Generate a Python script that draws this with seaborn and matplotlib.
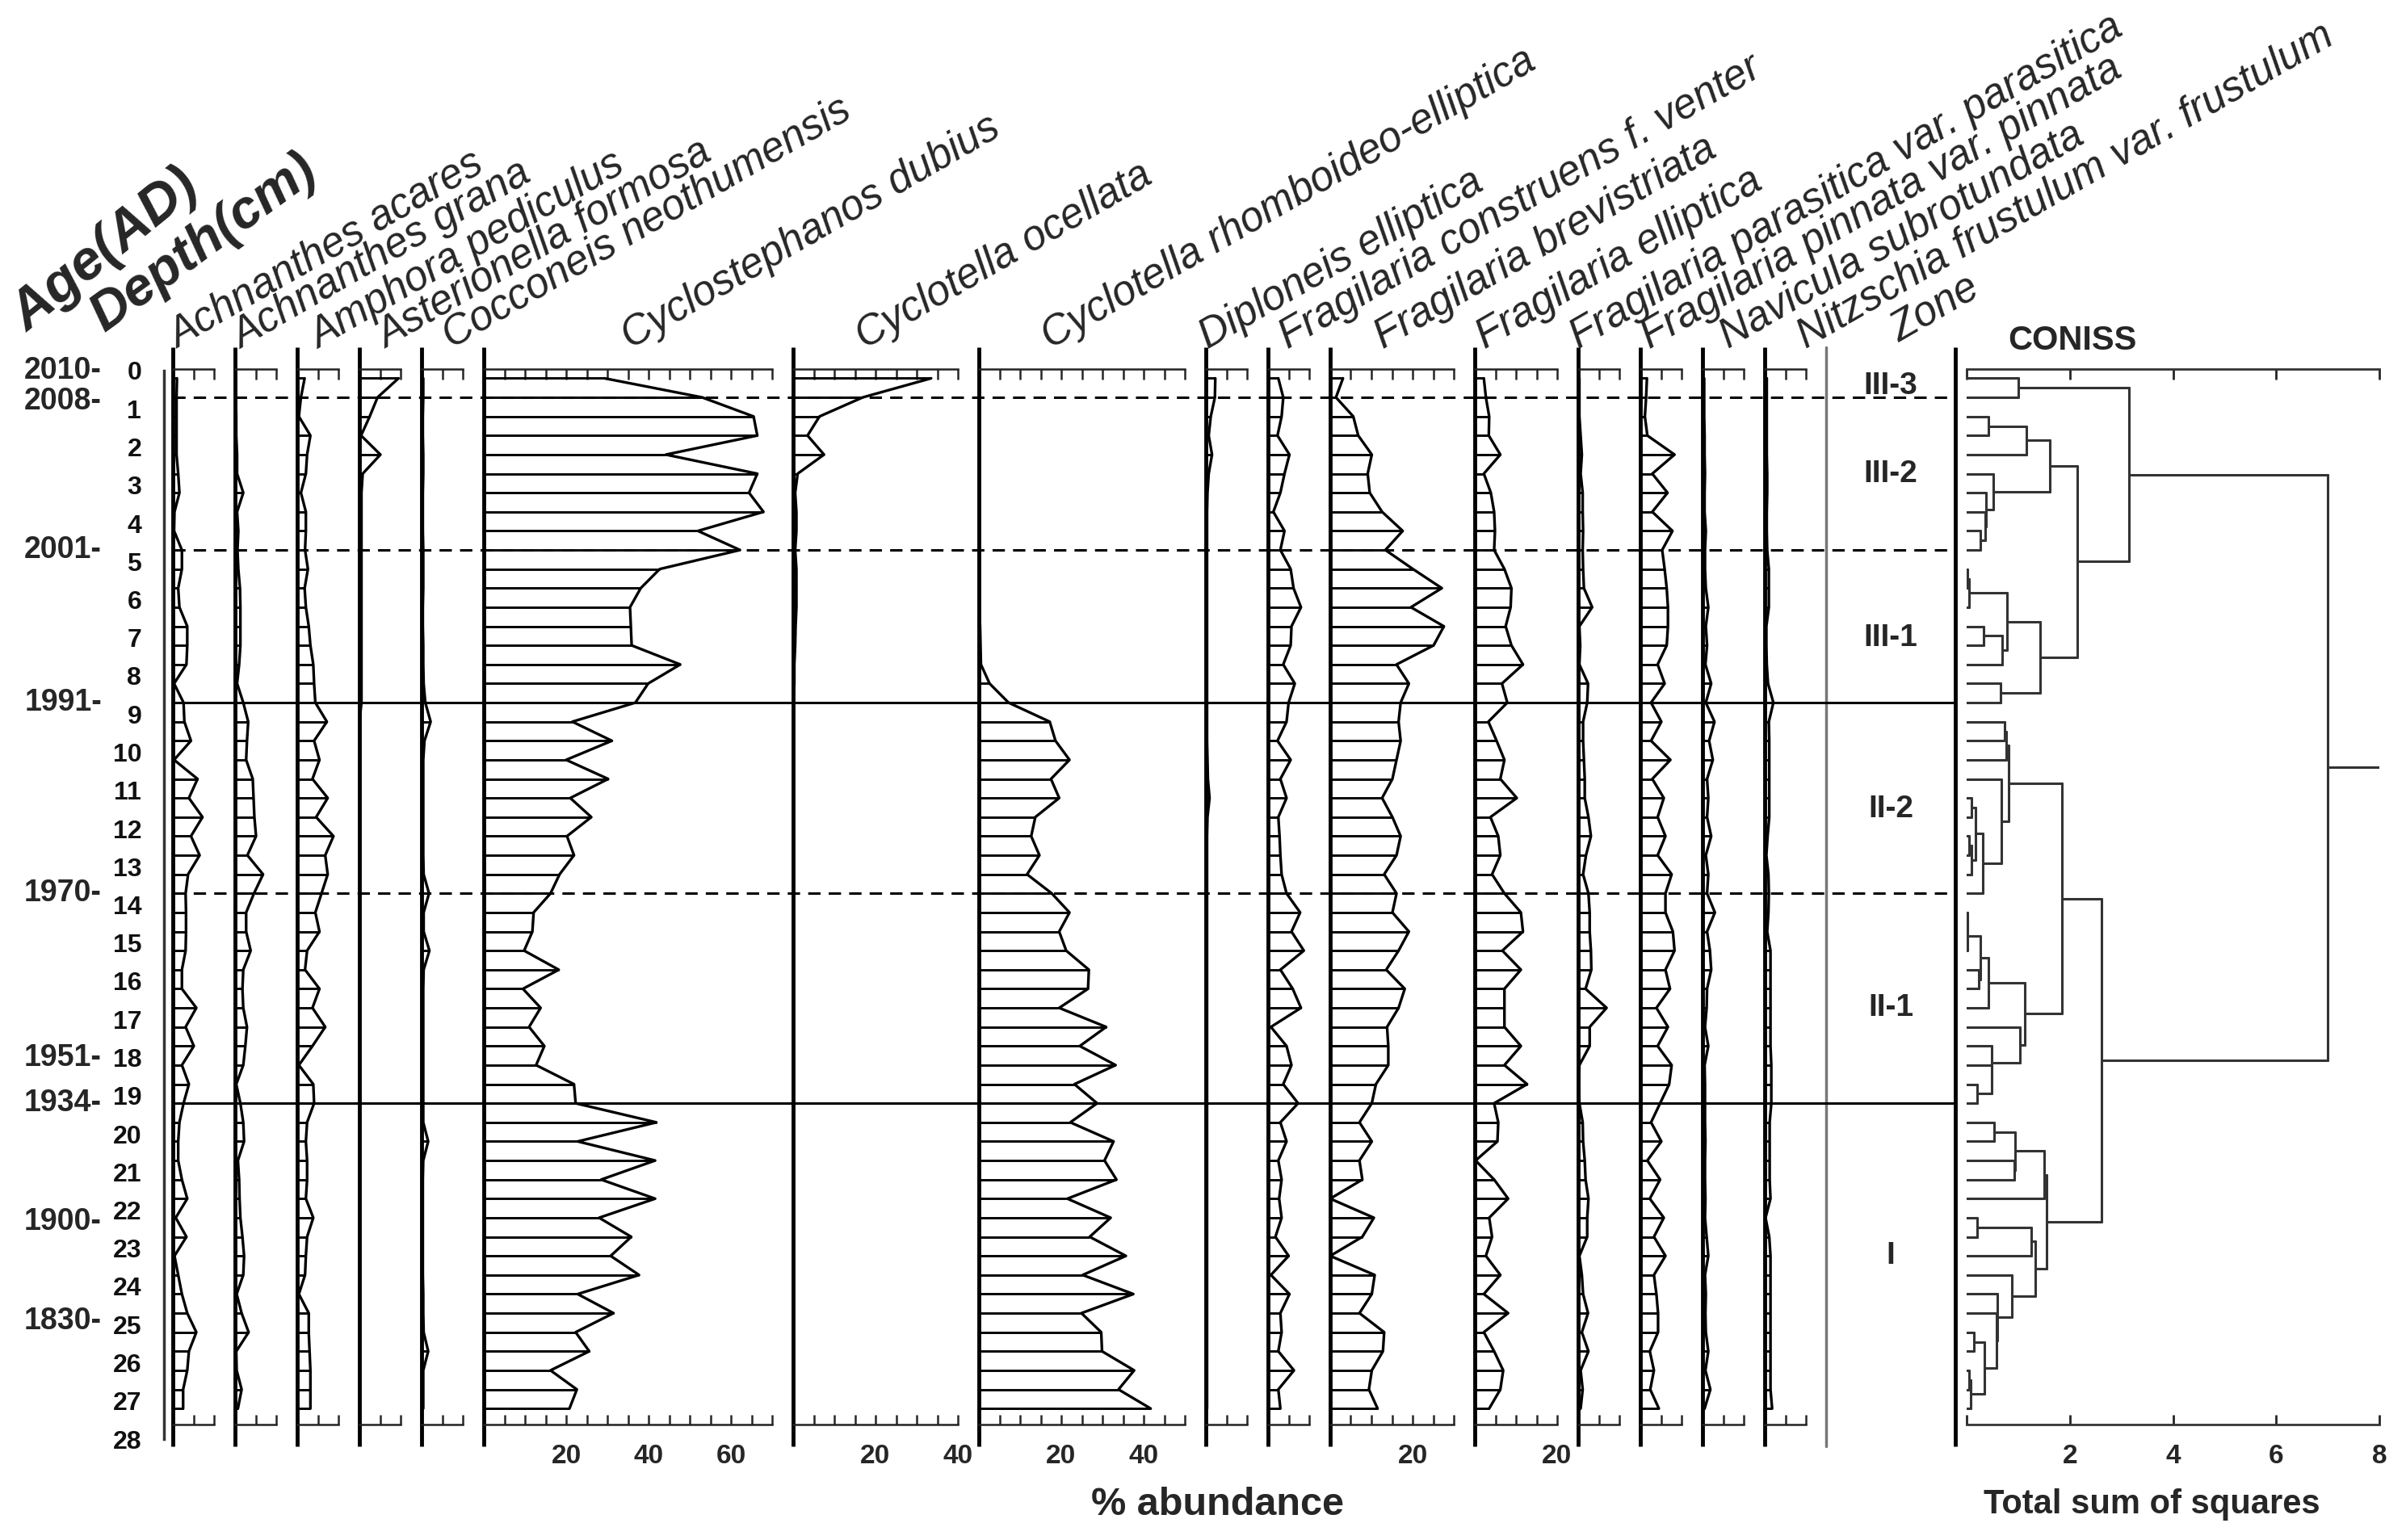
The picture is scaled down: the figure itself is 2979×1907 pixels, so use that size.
import numpy as np
import matplotlib
matplotlib.use("Agg")
import matplotlib.pyplot as plt
import seaborn as sns
from matplotlib.transforms import blended_transform_factory

sns.set_style("white")
plt.rcParams["font.family"] = ["Liberation Sans", "DejaVu Sans"]

W, H, DPI = 2979, 1907, 100

# sample depths (cm)
depth = [0.2, 0.7, 1.2, 1.7, 2.2, 2.7, 3.2, 3.7, 4.2, 4.7,
         5.2, 5.7, 6.2, 6.7, 7.2, 7.7, 8.2, 8.7, 9.2, 9.7,
         10.2, 10.7, 11.2, 11.7, 12.2, 12.7, 13.2, 13.7, 14.2, 14.7,
         15.2, 15.7, 16.2, 16.7, 17.2, 17.7, 18.2, 18.7, 19.2, 19.7,
         20.2, 20.7, 21.2, 21.7, 22.2, 22.7, 23.2, 23.7, 24.2, 24.7,
         25.2, 25.7, 26.2, 26.7, 27.2]

# % abundance per taxon
ach_aca = [1.0, 0.9, 0.9, 0.9, 0.9, 1.3, 1.6, 0.4, 0.3, 2.2,
           2.2, 1.3, 1.6, 3.5, 3.5, 3.3, 0.3, 2.6, 2.8, 4.4,
           0.3, 6.0, 3.9, 7.2, 4.4, 6.5, 3.7, 3.1, 3.2, 3.2,
           3.1, 2.2, 2.2, 5.7, 3.1, 5.1, 2.2, 3.9, 2.6, 1.6,
           1.3, 1.3, 2.2, 3.5, 0.7, 3.3, 0.4, 1.3, 2.2, 3.5,
           5.7, 3.9, 3.5, 2.5, 2.5]
ach_gra = [0.2, 0.2, 0.3, 0.3, 0.5, 0.5, 2.0, 0.5, 0.8, 0.6,
           0.8, 1.2, 1.3, 1.3, 1.3, 1.0, 0.5, 2.0, 3.2, 2.9,
           2.7, 4.3, 4.5, 4.7, 5.1, 3.0, 6.8, 4.6, 2.7, 2.7,
           3.8, 2.0, 1.8, 2.0, 2.9, 2.5, 2.0, 0.3, 1.3, 2.0,
           2.2, 0.7, 1.0, 1.1, 1.3, 1.8, 2.2, 2.0, 0.4, 1.6,
           3.3, 0.3, 0.4, 1.6, 0.7]
amp_ped = [1.8, 0.9, 0.4, 3.2, 2.4, 2.1, 0.9, 2.1, 2.1, 1.9,
           2.6, 1.8, 2.1, 2.8, 3.2, 3.9, 4.1, 4.4, 7.2, 4.1,
           5.4, 3.7, 7.4, 4.6, 8.8, 6.8, 7.4, 5.9, 4.4, 5.4,
           2.4, 1.9, 5.4, 3.7, 6.8, 3.7, 0.4, 3.9, 4.1, 2.4,
           2.1, 2.4, 2.4, 2.1, 3.9, 2.4, 2.1, 1.9, 0.4, 2.8,
           2.8, 3.0, 3.2, 3.2, 3.2]
ast_for = [9.5, 4.4, 2.5, 0.4, 5.1, 0.8, 0.5, 0.5, 0.5, 0.5,
           0.5, 0.5, 0.5, 0.5, 0.5, 0.5, 0.5, 0.5, 0.0, 0.0,
           0.0, 0.0, 0.0, 0.0, 0.0, 0.0, 0.0, 0.0, 0.0, 0.0,
           0.0, 0.0, 0.0, 0.0, 0.0, 0.0, 0.0, 0.0, 0.0, 0.0,
           0.0, 0.0, 0.0, 0.0, 0.0, 0.0, 0.0, 0.0, 0.0, 0.0,
           0.0, 0.0, 0.0, 0.0, 0.0]
coc_neo = [0.4, 0.4, 0.3, 0.3, 0.4, 0.4, 0.3, 0.3, 0.3, 0.4,
           0.4, 0.4, 0.3, 0.3, 0.4, 0.4, 0.5, 0.9, 2.2, 0.7,
           0.4, 0.4, 0.4, 0.4, 0.4, 0.4, 0.5, 1.8, 0.5, 0.5,
           1.9, 0.5, 0.4, 0.4, 0.4, 0.4, 0.4, 0.4, 0.4, 0.4,
           1.6, 0.4, 0.3, 0.3, 0.3, 0.3, 0.3, 0.3, 0.4, 0.4,
           0.5, 1.6, 0.4, 0.4, 0.4]
cyc_dub = [29.3, 53.0, 65.5, 66.4, 44.2, 66.4, 64.4, 67.9, 52.0, 62.2,
           42.7, 38.1, 35.5, 35.7, 35.9, 47.7, 39.9, 36.8, 21.5, 31.1,
           20.0, 30.2, 21.0, 26.1, 20.2, 21.9, 18.4, 16.2, 12.1, 11.8,
           9.8, 18.2, 9.5, 13.8, 11.0, 14.7, 12.7, 21.9, 22.3, 41.9,
           22.8, 41.6, 28.5, 41.6, 28.0, 35.8, 30.8, 37.7, 22.8, 31.5,
           22.3, 25.6, 16.2, 22.6, 20.8]
cyc_oce = [33.5, 16.9, 6.4, 3.5, 7.5, 1.1, 0.5, 0.8, 0.8, 0.5,
           0.8, 0.8, 0.8, 0.6, 0.5, 0.3, 0.3, 0.0, 0.0, 0.0,
           0.0, 0.0, 0.0, 0.0, 0.0, 0.0, 0.0, 0.0, 0.0, 0.0,
           0.0, 0.0, 0.0, 0.0, 0.0, 0.0, 0.0, 0.0, 0.0, 0.0,
           0.0, 0.0, 0.0, 0.0, 0.0, 0.0, 0.0, 0.0, 0.0, 0.0,
           0.0, 0.0, 0.0, 0.0, 0.0]
cyc_rho = [0.0, 0.0, 0.0, 0.0, 0.0, 0.0, 0.0, 0.0, 0.0, 0.0,
           0.0, 0.0, 0.0, 0.3, 0.4, 0.5, 2.6, 7.2, 17.2, 18.6,
           22.0, 17.5, 19.5, 13.7, 12.7, 14.7, 11.7, 17.7, 22.0, 19.5,
           21.2, 26.7, 26.5, 19.5, 30.9, 24.5, 33.2, 23.2, 28.7, 22.2,
           32.7, 30.5, 33.4, 21.5, 32.0, 26.9, 35.7, 25.2, 37.5, 24.9,
           29.7, 29.9, 37.7, 33.9, 41.7]
dip_ell = [2.3, 2.2, 1.2, 0.7, 1.5, 0.7, 0.4, 0.3, 0.3, 0.3,
           0.3, 0.3, 0.3, 0.3, 0.3, 0.3, 0.3, 0.3, 0.3, 0.3,
           0.4, 0.5, 0.9, 0.4, 0.3, 0.3, 0.3, 0.3, 0.3, 0.3,
           0.3, 0.3, 0.3, 0.3, 0.3, 0.3, 0.3, 0.3, 0.3, 0.3,
           0.3, 0.3, 0.3, 0.3, 0.3, 0.3, 0.3, 0.3, 0.3, 0.3,
           0.3, 0.3, 0.3, 0.3, 0.3]
fra_con = [2.5, 3.7, 3.3, 2.3, 5.2, 4.0, 3.0, 1.3, 4.0, 3.0,
           5.5, 6.2, 8.0, 5.7, 5.5, 3.7, 6.5, 5.0, 4.5, 2.3,
           5.5, 3.0, 4.5, 2.5, 2.8, 3.0, 3.3, 4.5, 7.8, 5.7,
           8.7, 3.0, 6.0, 8.0, 0.7, 4.5, 5.7, 3.7, 7.3, 3.0,
           4.5, 2.5, 3.3, 2.7, 3.3, 1.8, 5.0, 0.7, 5.2, 3.0,
           3.3, 2.5, 6.3, 2.5, 3.0]
fra_bre = [3.1, 1.4, 5.6, 6.8, 10.1, 9.1, 9.6, 12.6, 17.6, 13.4,
           20.1, 27.1, 19.6, 27.6, 25.1, 16.1, 19.1, 17.1, 16.6, 17.1,
           16.1, 15.1, 12.6, 15.1, 17.1, 16.1, 13.1, 16.1, 15.1, 19.1,
           16.6, 13.6, 18.1, 16.6, 13.8, 14.1, 14.1, 11.1, 10.1, 7.1,
           10.1, 7.1, 7.8, 0.0, 10.6, 7.8, 0.0, 10.8, 10.1, 7.1,
           13.1, 12.8, 10.1, 9.4, 11.5]
fra_ell = [2.2, 2.7, 3.5, 3.4, 6.2, 2.2, 3.9, 4.7, 4.9, 4.7,
           7.2, 8.9, 8.7, 7.5, 8.9, 11.7, 6.6, 7.9, 3.3, 5.3,
           7.2, 6.2, 10.2, 3.8, 5.7, 6.2, 4.2, 7.2, 11.2, 11.7,
           6.7, 11.2, 7.2, 7.2, 7.2, 11.2, 7.2, 12.7, 4.7, 5.7,
           5.5, 0.2, 4.7, 8.1, 3.5, 4.2, 2.7, 6.2, 2.2, 8.1,
           2.2, 4.7, 6.9, 6.2, 3.5]
fra_par = [0.3, 0.3, 0.3, 0.6, 0.9, 0.6, 1.1, 1.1, 1.2, 1.1,
           1.2, 1.4, 3.4, 0.3, 0.5, 0.3, 2.4, 2.2, 1.2, 1.2,
           1.4, 1.6, 1.6, 2.5, 3.1, 1.9, 1.2, 2.5, 2.8, 2.8,
           3.1, 3.2, 1.8, 6.9, 2.8, 2.8, 0.3, 0.2, 0.3, 1.1,
           1.2, 1.6, 1.8, 2.5, 2.2, 2.2, 0.3, 0.9, 1.2, 2.4,
           0.9, 2.5, 0.6, 1.1, 0.6]
fra_pin = [1.6, 1.4, 1.1, 1.7, 8.3, 2.9, 6.6, 2.9, 7.8, 5.3,
           5.9, 6.4, 6.7, 6.7, 6.4, 4.2, 5.9, 2.6, 5.1, 2.6,
           7.3, 2.9, 5.7, 4.2, 6.1, 4.2, 7.6, 6.1, 6.1, 7.9,
           8.3, 6.1, 7.2, 3.9, 6.7, 4.2, 7.6, 7.0, 4.8, 2.6,
           5.1, 1.7, 4.8, 2.3, 5.7, 3.3, 6.1, 3.3, 3.9, 4.3,
           4.3, 2.3, 3.3, 2.4, 4.5]
nav_sub = [0.4, 0.4, 0.4, 0.5, 0.5, 0.6, 0.5, 0.5, 0.8, 0.6,
           0.6, 0.8, 1.4, 0.8, 1.1, 0.7, 2.1, 0.8, 2.9, 1.6,
           2.5, 1.1, 1.4, 1.1, 2.1, 0.8, 1.4, 1.1, 3.0, 1.1,
           1.8, 2.1, 1.1, 1.0, 0.6, 1.4, 0.5, 0.6, 0.6, 0.6,
           0.7, 0.6, 0.6, 0.7, 0.6, 1.0, 1.4, 0.6, 0.8, 0.7,
           0.8, 1.4, 0.7, 1.9, 0.5]
nit_fru = [0.5, 0.5, 0.5, 0.5, 0.5, 0.6, 0.6, 0.5, 0.5, 0.6,
           1.0, 1.0, 1.0, 0.4, 0.4, 0.5, 0.8, 2.1, 1.0, 1.1,
           1.1, 1.1, 1.1, 1.1, 0.7, 0.4, 0.9, 1.0, 0.9, 0.6,
           1.4, 1.4, 1.4, 1.4, 1.4, 1.4, 1.6, 1.6, 1.6, 1.2,
           1.2, 1.2, 1.2, 1.4, 0.2, 1.1, 1.4, 1.4, 1.4, 1.4,
           1.4, 1.4, 1.4, 1.4, 1.8]

taxa = ["Achnanthes acares", "Achnanthes grana", "Amphora pediculus",
        "Asterionella formosa", "Cocconeis neothumensis", "Cyclostephanos dubius",
        "Cyclotella ocellata", "Cyclotella rhomboideo-elliptica", "Diploneis elliptica",
        "Fragilaria construens f. venter", "Fragilaria brevistriata", "Fragilaria elliptica",
        "Fragilaria parasitica var. parasitica", "Fragilaria pinnata var. pinnata",
        "Navicula subrotundata", "Nitzschia frustulum var. frustulum"]
series = [ach_aca, ach_gra, amp_ped, ast_for, coc_neo, cyc_dub, cyc_oce, cyc_rho,
          dip_ell, fra_con, fra_bre, fra_ell, fra_par, fra_pin, nav_sub, nit_fru]
x_max = [10, 10, 10, 10, 10, 70, 40, 50, 10, 10, 30, 20, 10, 10, 10, 10]

# zones
zone_bounds = [0.7, 4.7, 8.7, 13.7, 19.2]
zone_styles = ["--", "--", "-", "--", "-"]
zone_names = ["III-3", "III-2", "III-1", "II-2", "II-1", "I"]
zone_label_depth = [0.4, 2.7, 7.0, 11.5, 16.7, 23.2]

# age scale
ages = ["2010-", "2008-", "2001-", "1991-", "1970-", "1951-", "1934-", "1900-", "1830-"]
age_depth = [0.0, 0.8, 4.7, 8.7, 13.7, 18.0, 19.2, 22.3, 24.9]

# CONISS merges: (node, left, right, total sum of squares)
coniss = [
    ("a1", 0, 1, 1.0), ("d1", 2, 3, 0.43), ("d", "d1", 4, 1.16),
    ("h", 8, 9, 0.27), ("g2", 7, "h", 0.36), ("g", 6, "g2", 0.38),
    ("f", 5, "g", 0.52), ("c", "d", "f", 1.62),
    ("k1", 10, 11, 0.02), ("k", "k1", 12, 0.04), ("l", 13, 14, 0.33),
    ("m", "l", 15, 0.69), ("j", "k", "m", 0.79), ("n", 16, 17, 0.65),
    ("i", "j", "n", 1.42), ("b", "c", "i", 2.14), ("a", "a1", "b", 3.14),
    ("r1", 18, 19, 0.73), ("r2", "r1", 20, 0.77), ("v", 22, 23, 0.10),
    ("w1", 24, 25, 0.05), ("w", "w1", 26, 0.10), ("u", "v", "w", 0.18),
    ("t", "u", 27, 0.31), ("s", 21, "t", 0.68), ("q", "r2", "s", 0.82),
    ("y0", 28, 29, 0.01), ("y1", "y0", 30, 0.02), ("y3", 31, 32, 0.23),
    ("y2", "y1", "y3", 0.27), ("y4", "y2", 33, 0.43), ("y8", 37, 38, 0.20),
    ("y7", 36, "y8", 0.48), ("y6", 35, "y7", 0.49), ("y5", 34, "y6", 1.04),
    ("x", "y4", "y5", 1.12), ("p", "q", "x", 1.84),
    ("bb1", 39, 40, 0.54), ("bb3", 41, 42, 0.92), ("bb2", "bb1", "bb3", 0.94),
    ("bb4", "bb2", 43, 1.50), ("cc1", 44, 45, 0.20), ("cc2", "cc1", 46, 1.25),
    ("hh", 50, 51, 0.14), ("ii1", 52, 53, 0.05), ("ii", "ii1", 54, 0.08),
    ("gg", "hh", "ii", 0.35), ("ff", 49, "gg", 0.58), ("ee", 48, "ff", 0.60),
    ("dd", 47, "ee", 0.87), ("cc3", "cc2", "dd", 1.33), ("aa", "bb4", "cc3", 1.55),
    ("z", "p", "aa", 2.62), ("root", "a", "z", 7.0),
]

# ---------------- layout (pixels) ----------------
Y0, PXCM = 459.0, 47.25        # depth 0 row and px per cm
PXPCT = 5.1                    # px per 1 % abundance
TOP, BOT = 457, 1764
first_base, gap = 214, 26
label_dx = [6, 8, 27, 33, 37, 181, 88, 88, 2, 25, 65, 13, 0, 12, 32, 51]


def dep(ypx):
    return (ypx - Y0) / PXCM


def px_axes(x0, y0, x1, y1):
    return fig.add_axes([x0 / W, 1 - y1 / H, (x1 - x0) / W, (y1 - y0) / H])


fig = plt.figure(figsize=(W / DPI, H / DPI), dpi=DPI)

bases = []
xb = first_base
for xm in x_max:
    bases.append(xb)
    xb += xm * PXPCT + gap

for name, vals, xm, base, dx in zip(taxa, series, x_max, bases, label_dx):
    ax = px_axes(base, TOP, base + xm * PXPCT, BOT)
    ax.set_xlim(0, xm)
    ax.set_ylim(dep(BOT), dep(TOP))
    ax.hlines(depth, 0, vals, color="black", lw=2.1)
    sns.lineplot(x=vals, y=depth, orient="y", estimator=None, color="black",
                 lw=2.4, ax=ax)
    ax.plot([0, 0], [dep(430), dep(1791)], color="black", lw=3.5,
            clip_on=False, solid_capstyle="butt")
    for s in ["left", "right"]:
        ax.spines[s].set_visible(False)
    for s in ["top", "bottom"]:
        ax.spines[s].set_linewidth(1.8)
        ax.spines[s].set_color("#222222")
    ticks = np.arange(0, xm + 0.1, 5)
    ax.set_xticks(ticks)
    ax.set_xticklabels([str(int(t)) if t > 0 and t % 20 == 0 else "" for t in ticks])
    ax.tick_params(axis="x", which="both", direction="in", top=True, bottom=True,
                   length=9, width=1.8, labelsize=24, pad=17)
    for lab in ax.get_xticklabels():
        lab.set_fontweight("bold")
    ax.set_yticks([])
    ax.set_xlabel("")
    ax.set_ylabel("")
    ax.patch.set_alpha(0)
    fig.text((base + dx) / W, 1 - 432 / H, name, rotation=30, rotation_mode="anchor",
             ha="left", va="baseline", style="italic", fontsize=37)

# depth axis
ax_d = px_axes(203, Y0, 210, Y0 + 28 * PXCM)
ax_d.set_ylim(28, 0)
ax_d.set_xticks([])
for s in ["top", "right", "bottom"]:
    ax_d.spines[s].set_visible(False)
ax_d.spines["left"].set_linewidth(2.5)
ax_d.spines["left"].set_color("#333333")
ax_d.set_yticks(range(0, 29))
ax_d.set_yticks(np.arange(0.5, 28, 1.0), minor=True)
ax_d.tick_params(axis="y", which="major", direction="out", length=14, width=2.2,
                 labelsize=23, pad=6, colors="#111111")
ax_d.tick_params(axis="y", which="minor", direction="out", length=7, width=2.0,
                 color="#555555")
for lab in ax_d.get_yticklabels():
    lab.set_fontweight("bold")
ax_d.patch.set_alpha(0)
tr = blended_transform_factory(fig.transFigure, ax_d.transData)
for a, d in zip(ages, age_depth):
    ax_d.text(126 / W, d, a, transform=tr, ha="right", va="center",
              fontsize=27, fontweight="bold")

fig.text(34 / W, 1 - 412 / H, "Age(AD)", rotation=39, rotation_mode="anchor",
         ha="left", va="baseline", style="italic", fontweight="bold", fontsize=50)
fig.text(130 / W, 1 - 412 / H, "Depth(cm)", rotation=36, rotation_mode="anchor",
         ha="left", va="baseline", style="italic", fontweight="bold", fontsize=48)

# zone column
zone_left = bases[-1] + x_max[-1] * PXPCT + 25
ax_zn = px_axes(zone_left, TOP, 2421, BOT)
ax_zn.set_ylim(dep(BOT), dep(TOP))
ax_zn.set_xlim(0, 1)
ax_zn.axis("off")
ax_zn.plot([0, 0], [dep(430), dep(1791)], color="#777777", lw=2.5, clip_on=False)
for zn, zd in zip(zone_names, zone_label_depth):
    ax_zn.text(0.5, zd, zn, ha="center", va="center", fontsize=28, fontweight="bold")
fig.text((zone_left + 91) / W, 1 - 424 / H, "Zone", rotation=30, rotation_mode="anchor",
         ha="left", va="baseline", style="italic", fontsize=37)

# CONISS
ax_c = px_axes(2435, TOP, 2946, BOT)
ax_c.set_xlim(0, 8)
ax_c.set_ylim(dep(BOT), dep(TOP))
for s in ["left", "right"]:
    ax_c.spines[s].set_visible(False)
for s in ["top", "bottom"]:
    ax_c.spines[s].set_linewidth(2.0)
    ax_c.spines[s].set_color("#333333")
ax_c.set_xticks([0, 2, 4, 6, 8])
ax_c.set_xticklabels(["", "2", "4", "6", "8"])
ax_c.tick_params(axis="x", direction="in", top=True, bottom=True, length=9,
                 width=2.0, labelsize=24, pad=17)
for lab in ax_c.get_xticklabels():
    lab.set_fontweight("bold")
ax_c.set_yticks([])
ax_c.plot([-0.22, -0.22], [dep(430), dep(1791)], color="black", lw=3.5,
          clip_on=False, solid_capstyle="butt")
ax_c.patch.set_alpha(0)

node_y, node_h = {}, {}


def child_pos(c):
    if isinstance(c, int):
        return depth[c], 0.0
    return node_y[c], node_h[c]


for node, left, right, h in coniss:
    ly, lh = child_pos(left)
    ry, rh = child_pos(right)
    ax_c.plot([lh, h], [ly, ly], color="#333333", lw=2.2)
    ax_c.plot([rh, h], [ry, ry], color="#333333", lw=2.2)
    ax_c.plot([h, h], [ly, ry], color="#333333", lw=2.2)
    node_y[node] = (ly + ry) / 2
    node_h[node] = h
ax_c.plot([node_h["root"], 8], [node_y["root"], node_y["root"]], color="#333333", lw=2.2)

fig.text(2566 / W, 1 - 422 / H, "CONISS", ha="center", va="center",
         fontsize=30, fontweight="bold")
fig.text(2664 / W, 1 - 1863 / H, "Total sum of squares", ha="center", va="center",
         fontsize=30, fontweight="bold")
fig.text(1508 / W, 1 - 1863 / H, "% abundance", ha="center", va="center",
         fontsize=35, fontweight="bold")

# zone boundary lines across all panels
ax_zl = px_axes(bases[0], TOP, 2421, BOT)
ax_zl.set_ylim(dep(BOT), dep(TOP))
ax_zl.axis("off")
for zb, st in zip(zone_bounds, zone_styles):
    if st == "--":
        ax_zl.axhline(zb, color="black", lw=2.2, ls=(0, (5, 3.3)))
    else:
        ax_zl.axhline(zb, color="black", lw=2.2)

fig.savefig("out.png", dpi=DPI)
